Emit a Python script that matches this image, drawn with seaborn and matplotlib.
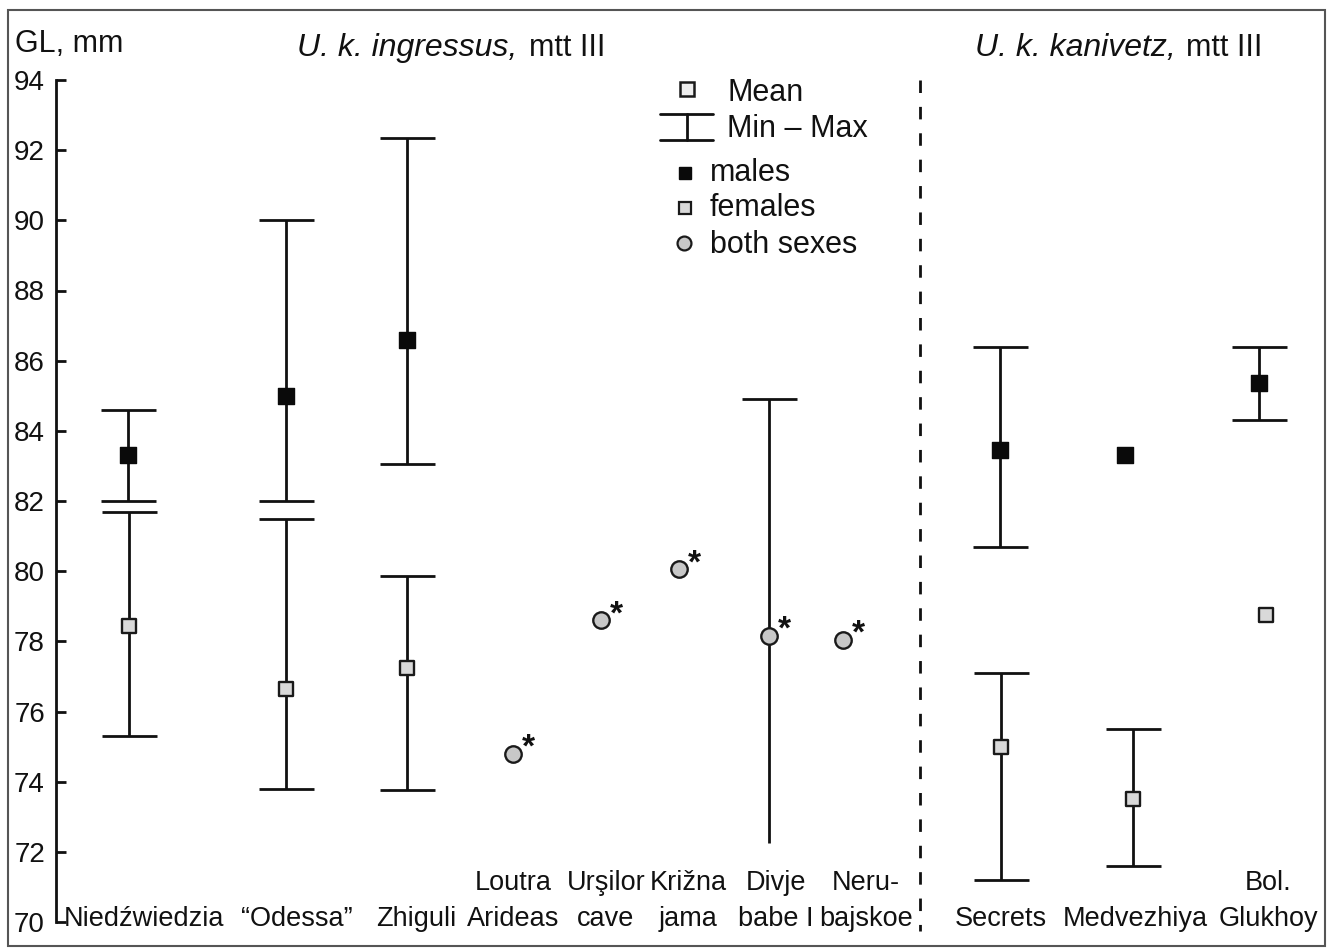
import numpy as np
import pandas as pd
import matplotlib
matplotlib.use("Agg")
import matplotlib.pyplot as plt
from matplotlib.lines import Line2D
from matplotlib.patches import Rectangle
import seaborn as sns

# data (GL of mtt III, mm)
sites = ["Niedźwiedzia", "“Odessa”", "Zhiguli", "Loutra\nArideas", "Urşilor\ncave",
         "Križna\njama", "Divje\nbabe I", "Neru-\nbajskoe", "Secrets", "Medvezhiya",
         "Bol.\nGlukhoy"]
nan = np.nan
male_mean = [83.3, 85.0, 86.6, nan, nan, nan, nan, nan, 83.45, 83.3, 85.35]
male_min = [82.0, 82.0, 83.05, nan, nan, nan, nan, nan, 80.7, nan, 84.3]
male_max = [84.6, 90.0, 92.35, nan, nan, nan, nan, nan, 86.4, nan, 86.4]
female_mean = [78.45, 76.65, 77.25, nan, nan, nan, nan, nan, 75.0, 73.5, 78.75]
female_min = [75.3, 73.8, 73.75, nan, nan, nan, nan, nan, 71.2, 71.6, nan]
female_max = [81.7, 81.5, 79.85, nan, nan, nan, nan, nan, 77.1, 75.5, nan]
both_mean = [nan, nan, nan, 74.8, 78.6, 80.05, 78.15, 78.05, nan, nan, nan]
both_min = [nan, nan, nan, nan, nan, nan, 72.25, nan, nan, nan, nan]
both_max = [nan, nan, nan, nan, nan, nan, 84.9, nan, nan, nan, nan]

# layout (horizontal positions in figure pixels)
site_x = [128, 286, 407, 513, 601, 679, 769, 843, 1000, 1125, 1259]
female_dx = [1, 0, 0, 0, 0, 0, 0, 0, 1, 8, 7]
label_x = [144, 297, 416, 513, 606, 688, 776, 866, 1001, 1135, 1268]
divider_x = 920

sns.set_style("white")
plt.rcParams["font.family"] = ["Liberation Sans", "DejaVu Sans"]

W, H = 1338, 949
fig = plt.figure(figsize=(W / 100, H / 100), dpi=100)
ax_left, ax_right, ax_top, ax_bot = 56, 1330, 80, 922
ax = fig.add_axes([ax_left / W, 1 - ax_bot / H, (ax_right - ax_left) / W, (ax_bot - ax_top) / H])
ax.set_xlim(ax_left, ax_right)
ax.set_ylim(70, 94)

df = pd.DataFrame({"site": sites, "x": site_x, "fx": np.array(site_x) + np.array(female_dx),
                   "m": male_mean, "m_lo": male_min, "m_hi": male_max,
                   "f": female_mean, "f_lo": female_min, "f_hi": female_max,
                   "b": both_mean, "b_lo": both_min, "b_hi": both_max})

LW = 2.0
INK = "#111111"
cap = 27.5  # half cap width in px


def range_bar(x, lo, hi, lower_cap=True):
    if np.isnan(lo) or np.isnan(hi):
        return
    ax.vlines(x, lo, hi, color=INK, lw=LW, zorder=2)
    ax.hlines(hi, x - cap, x + cap, color=INK, lw=LW, zorder=2)
    if lower_cap:
        ax.hlines(lo, x - cap, x + cap, color=INK, lw=LW, zorder=2)


for _, r in df.iterrows():
    range_bar(r["x"], r["m_lo"], r["m_hi"])
    range_bar(r["fx"], r["f_lo"], r["f_hi"])
    # Divje babe I: range for both sexes has no lower cap
    range_bar(r["x"], r["b_lo"], r["b_hi"], lower_cap=False)

sns.scatterplot(data=df.dropna(subset=["m"]), x="x", y="m", marker="s", s=121,
                color="#0a0a0a", edgecolor="#0a0a0a", linewidth=1, ax=ax, zorder=3, legend=False)
sns.scatterplot(data=df.dropna(subset=["f"]), x="fx", y="f", marker="s", s=95,
                color="#d9d9d9", edgecolor="#1a1a1a", linewidth=1.7, ax=ax, zorder=3, legend=False)
sns.scatterplot(data=df.dropna(subset=["b"]), x="x", y="b", marker="o", s=140,
                color="#c8c8c8", edgecolor="#1a1a1a", linewidth=1.7, ax=ax, zorder=3, legend=False)

for _, r in df.dropna(subset=["b"]).iterrows():
    ax.annotate("*", (r["x"], r["b"]), xytext=(6.5, 4), textcoords="offset points",
                ha="left", va="center", fontsize=24, fontweight="bold", color=INK)

# divider between subspecies
ax.plot([divider_x, divider_x], [94, 69.75], color=INK, lw=2, dashes=(4.5, 5), clip_on=False)

# axes styling
for s in ["top", "right", "bottom"]:
    ax.spines[s].set_visible(False)
ax.spines["left"].set_linewidth(2)
ax.spines["left"].set_color(INK)
ax.set_yticks(range(70, 95, 2))
ax.tick_params(axis="y", left=True, direction="in", length=7, width=2, labelsize=20, pad=8,
               colors=INK)
ax.set_xticks([])
ax.set_xlabel("")
ax.set_ylabel("")

for lx, name in zip(label_x, sites):
    ax.text(lx, 69.72, name, ha="center", va="bottom", fontsize=19.5, linespacing=1.48,
            color=INK, clip_on=False)

# titles
fig.text(15 / W, 1 - 44 / H, "GL, mm", ha="left", va="center", fontsize=22, color=INK)
fig.text(297 / W, 1 - 48 / H, "U. k. ingressus,", ha="left", va="center", fontsize=23,
         style="italic", color=INK)
fig.text(605 / W, 1 - 48 / H, "mtt III", ha="right", va="center", fontsize=22, color=INK)
fig.text(975 / W, 1 - 48 / H, "U. k. kanivetz,", ha="left", va="center", fontsize=23,
         style="italic", color=INK)
fig.text(1262 / W, 1 - 48 / H, "mtt III", ha="right", va="center", fontsize=22, color=INK)


# legend drawn by hand
def px(x, y):
    return x / W, 1 - y / H


def leg_marker(x, y, marker, ms, fc, ec, mew):
    fig.add_artist(Line2D(*zip(px(x, y)), marker=marker, markersize=ms, markerfacecolor=fc,
                          markeredgecolor=ec, markeredgewidth=mew, linestyle="none"))


leg_marker(687, 89, "s", 9.5, "#eeeeee", "#1a1a1a", 1.8)
fig.text(*px(727, 93), "Mean", ha="left", va="center", fontsize=22, color=INK)
for xs, ys in [((660, 713), (114, 114)), ((660, 713), (140, 140)), ((687, 687), (114, 140))]:
    fig.add_artist(Line2D([xs[0] / W, xs[1] / W], [1 - ys[0] / H, 1 - ys[1] / H], color=INK, lw=LW))
fig.text(*px(727, 129), "Min – Max", ha="left", va="center", fontsize=22, color=INK)
leg_marker(685, 173, "s", 8.5, "#0a0a0a", "#0a0a0a", 1)
fig.text(*px(710, 173), "males", ha="left", va="center", fontsize=22, color=INK)
leg_marker(685, 208, "s", 8, "#d9d9d9", "#1a1a1a", 1.6)
fig.text(*px(710, 208), "females", ha="left", va="center", fontsize=22, color=INK)
leg_marker(684, 243, "o", 10, "#c8c8c8", "#1a1a1a", 1.6)
fig.text(*px(710, 245), "both sexes", ha="left", va="center", fontsize=22, color=INK)

# outer frame
fig.add_artist(Rectangle((8 / W, 1 - 946 / H), (1325 - 8) / W, (946 - 10) / H, transform=fig.transFigure,
                         fill=False, edgecolor="#555555", lw=1.5))

fig.savefig("out.png", dpi=100)
